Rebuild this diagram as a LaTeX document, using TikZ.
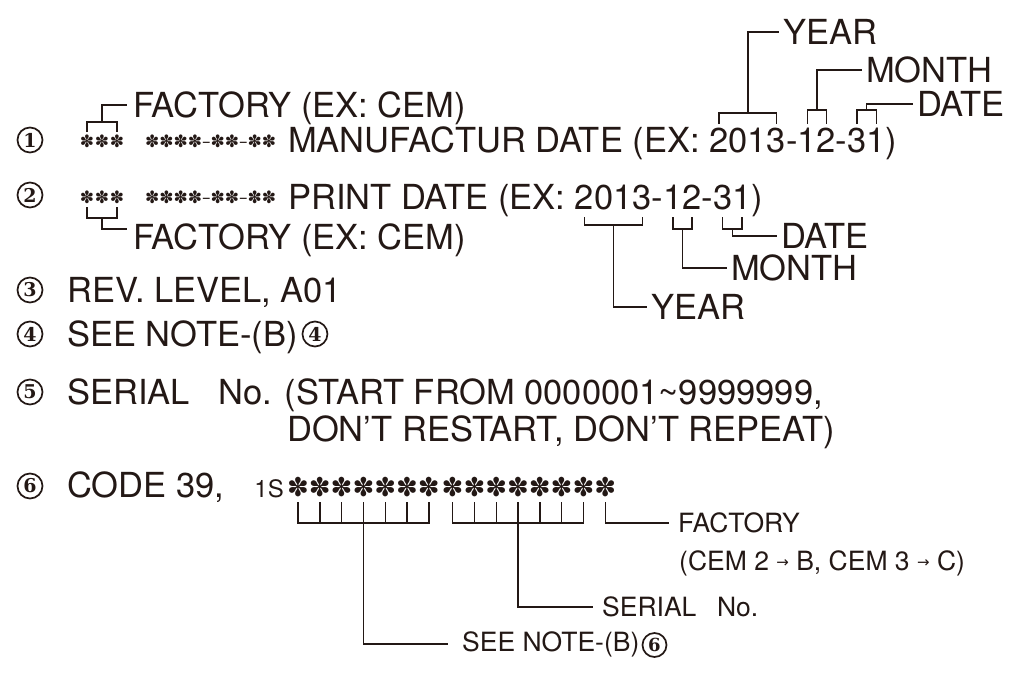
\documentclass[tikz,border=0pt]{standalone}
\usepackage{fontspec}
\setmainfont{TeX Gyre Heros}
\newfontfamily\symfont{DejaVu Sans}
\newfontfamily\numfont{DejaVu Serif}
\usetikzlibrary{calc}
\definecolor{ink}{RGB}{35,24,21}
\newcommand\arr{\raisebox{3pt}{\symfont\fontsize{15}{15}\selectfont →}}

\begin{document}
\begin{tikzpicture}[x=1pt,y=-1pt,
  every node/.style={text=ink, inner sep=0pt},
  big/.style={font=\fontsize{34.5}{40}\selectfont, anchor=base west},
  small/.style={font=\fontsize{26.5}{30}\selectfont, anchor=base west},
  tag/.style={font=\fontsize{34.5}{40}\selectfont, anchor=west, inner xsep=4pt},
  subtag/.style={font=\fontsize{26.5}{30}\selectfont, anchor=west, inner xsep=9pt},
  num/.style={circle, draw=ink, line width=1.7pt, minimum size=25pt,
    font=\numfont\bfseries\fontsize{19}{19}\selectfont},
  numsm/.style={num, minimum size=24pt, line width=1.7pt,
    font=\numfont\bfseries\fontsize{18}{18}\selectfont},
  ast/.style={font=\symfont\fontsize{17}{17}\selectfont},
  astbig/.style={font=\symfont\fontsize{26}{26}\selectfont},
  lead/.style={draw=ink, line width=1.4pt}]
\useasboundingbox (0,0) rectangle (1033,675);

% (1) manufacture date
\node[num] (c1) at (30,140) {1};
\foreach \x [count=\i] in {87,102,117} \node[ast] (fa\i) at (\x,141) {✽};
\node[ast, anchor=west] (sa) at (145,141) {✽✽✽✽–✽✽–✽✽};
\node[big] (mf) at (288,152) {MANUFACTUR DATE (EX: 2013-12-31)};
\node[big] (fac1) at (133,117) {FACTORY (EX: CEM)};
\node[tag] (yr1) at (779,32) {YEAR};
\node[tag] (mo1) at (862,70) {MONTH};
\node[tag] (dy1) at (913,104) {DATE};
\coordinate (f1e) at (127,105);
\draw[lead] (fa1 |- 0,132) |- (fa3 |- 0,122) -- (fa3 |- 0,132);
\draw[lead] (fa2 |- 0,122) |- (f1e);
\draw[lead] ($(mf.base east)+(-178.3,-28)$) |- ++(57.5,-11) -- ++(0,11);
\draw[lead] ($(mf.base east)+(-149.5,-39)$) |- (yr1.west);
\draw[lead] ($(mf.base east)+(-90.1,-28)$) |- ++(19.2,-14) -- ++(0,14);
\draw[lead] ($(mf.base east)+(-80.5,-42)$) |- (mo1.west);
\draw[lead] ($(mf.base east)+(-40.3,-28)$) |- ++(19.2,-14) -- ++(0,14);
\draw[lead] ($(mf.base east)+(-30.7,-42)$) |- (dy1.west);

% (2) print date
\node[num] (c2) at (30,195) {2};
\foreach \x [count=\i] in {87,102,117} \node[ast] (fb\i) at (\x,197) {✽};
\node[ast, anchor=west] (sb) at (145,197) {✽✽✽✽–✽✽–✽✽};
\node[big] (pd) at (288,209) {PRINT DATE (EX: 2013-12-31)};
\node[big] (fac2) at (133,249) {FACTORY (EX: CEM)};
\node[tag] (yr2) at (647,307) {YEAR};
\node[tag] (mo2) at (727,268) {MONTH};
\node[tag] (dy2) at (777,236) {DATE};
\coordinate (f2e) at (127,229);
\draw[lead] (fb1 |- 0,207) |- (fb3 |- 0,218) -- (fb3 |- 0,207);
\draw[lead] (fb2 |- 0,218) |- (f2e);
\draw[lead] ($(pd.base east)+(-178.3,8)$) |- ++(57.5,8) -- ++(0,-8);
\draw[lead] ($(pd.base east)+(-149.5,16)$) |- (yr2.west);
\draw[lead] ($(pd.base east)+(-90.1,8)$) |- ++(19.2,12) -- ++(0,-12);
\draw[lead] ($(pd.base east)+(-80.5,20)$) |- (mo2.west);
\draw[lead] ($(pd.base east)+(-40.3,8)$) |- ++(19.2,12) -- ++(0,-12);
\draw[lead] ($(pd.base east)+(-30.7,20)$) |- (dy2.west);

% (3)-(5)
\node[num] (c3) at (30,290) {3};
\node[big] (rev) at (67,302) {REV. LEVEL, A01};
\node[num] (c4) at (30,334) {4};
\node[big] (nt4) at (67,346) {SEE NOTE-(B)};
\node[num] (c4b) at ($(nt4.base east)+(17,-12)$) {4};
\node[num] (c5) at (30,392) {5};
\node[big] (sn) at (67,404) {SERIAL\hspace{0.55em} No. (START FROM 0000001\textasciitilde9999999,};
\node[big] (sn2) at (287,441) {DON’T RESTART, DON’T REPEAT)};

% (6) code 39
\node[num] (c6) at (30,486) {6};
\node[big] (cd) at (67,497) {CODE 39,};
\node[font=\fontsize{24}{24}\selectfont, anchor=base east] (one) at (284,497) {1S};
\foreach \i in {1,...,7} \node[astbig] (s\i) at ({298+21.8*(\i-1)},487) {✽};
\foreach \i in {8,...,15} \node[astbig] (s\i) at ({300+21.8*(\i-1)},487) {✽};
\node[subtag, inner xsep=14pt] (seen) at (448,644) {SEE NOTE-(B)};
\node[numsm] (c6b) at ($(seen.east)+(1,1)$) {6};
\node[subtag] (ser) at (593,607) {SERIAL\hspace{0.5em} No.};
\node[subtag] (fct) at (669,523) {FACTORY};
\node[small] (cem) at (679,570) {(CEM 2 \arr{} B, CEM 3 \arr{} C)};
\draw[lead] (s1 |- 0,502) |- (s7 |- 0,523) -- (s7 |- 0,502);
\draw[lead] (s8 |- 0,502) |- (s14 |- 0,523) -- (s14 |- 0,502);
\foreach \i in {2,3,5,6,9,10,12,13} \draw[lead] (s\i |- 0,502) -- (s\i |- 0,523);
\draw[lead] (s4 |- 0,502) |- (seen.west);
\draw[lead] (s11 |- 0,502) |- (ser.west);
\draw[lead] (s15 |- 0,502) |- (fct.west);
\end{tikzpicture}
\end{document}
